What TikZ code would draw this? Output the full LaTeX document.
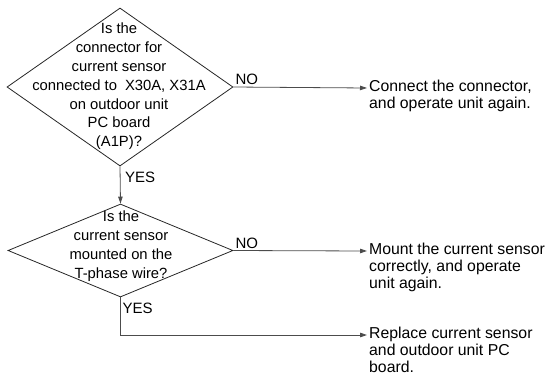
\documentclass[tikz,border=0pt]{standalone}
\usepackage{fontspec}
\setmainfont{Liberation Sans}
\usetikzlibrary{positioning,arrows.meta,shapes.geometric}
\colorlet{linegray}{black!70}
\colorlet{edgedark}{black!85}

\begin{document}
\begin{tikzpicture}[x=1pt,y=-1pt,every node/.style={font=\fontsize{15.8}{17}\selectfont},
    decision/.style={draw=edgedark,diamond,inner sep=0pt,line width=.8pt},
    question/.style={align=center,inner sep=0pt,font=\fontsize{14.8}{18.8}\selectfont},
    answer/.style={align=left,inner sep=0pt},
    branch/.style={inner sep=2pt,font=\fontsize{15}{17}\selectfont},
    flow/.style={-{Triangle[length=7pt,width=4.5pt]},line width=.8pt,linegray}]
    \useasboundingbox (0,0) rectangle (548,380);
    % questions
    \node[decision,minimum width=226pt,minimum height=158pt] (q1) at (120,87) {};
    \node[question] (q1text) at (119,86.5) {Is the\\connector for\\current sensor\\connected to\hspace{8pt}X30A, X31A\\on outdoor unit\\PC board\\(A1P)?};
    \node[decision,minimum width=225pt,minimum height=93pt] (q2) at (120.5,250.5) {};
    \node[question] (q2text) at (121,246) {Is the\\current sensor\\mounted on the\\T-phase wire?};
    % answers
    \coordinate (t1) at (367,88);
    \coordinate (t2) at (367,251);
    \coordinate (t3) at (367,335);
    \node[answer,below right=-8pt and 2pt of t1] (a1) {Connect the connector,\\and operate unit again.};
    \node[answer,below right=-8pt and 2pt of t2] (a2) {Mount the current sensor\\correctly, and operate\\unit again.};
    \node[answer,below right=-8pt and 2pt of t3] (a3) {Replace current sensor\\and outdoor unit PC\\board.};
    % connectors
    \draw[flow] (q1.south) -- (q2.north);
    \draw[flow] (q1.east) -- (t1);
    \draw[flow] (q2.east) -- (t2);
    \draw[flow] (q2.south) |- (t3);
    \node[branch,anchor=south west] (no1) at (q1.east) {NO};
    \node[branch,anchor=north west,xshift=3pt,yshift=-3pt] (yes1) at (q1.south) {YES};
    \node[branch,anchor=south west] (no2) at (q2.east) {NO};
    \node[branch,anchor=north west,yshift=-3pt] (yes2) at (q2.south) {YES};
  \end{tikzpicture}
\end{document}
